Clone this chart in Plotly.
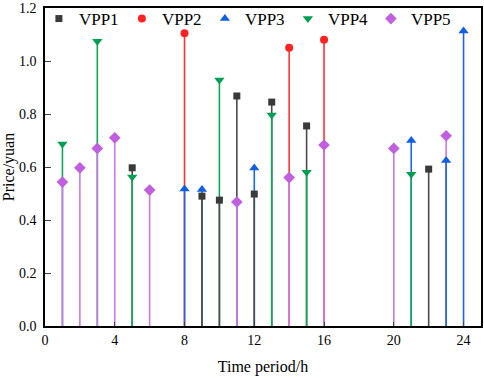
import plotly.graph_objects as go

# ---- data ----
vpp1_t = [5, 9, 10, 11, 12, 13, 15, 22]
vpp1_v = [0.597, 0.49, 0.475, 0.868, 0.498, 0.845, 0.755, 0.592]

vpp2_t = [8, 14, 16]
vpp2_v = [1.105, 1.05, 1.08]

vpp3_t = [8, 9, 12, 21, 23, 24]
vpp3_v = [0.517, 0.515, 0.596, 0.70, 0.625, 1.113]

vpp4_t = [1, 3, 5, 10, 13, 15, 21]
vpp4_v = [0.687, 1.075, 0.562, 0.928, 0.796, 0.58, 0.573]

vpp5_t = [1, 2, 3, 4, 6, 11, 14, 16, 20, 23]
vpp5_v = [0.543, 0.597, 0.67, 0.71, 0.513, 0.468, 0.56, 0.683, 0.67, 0.718]

x_ticks = [0, 4, 8, 12, 16, 20, 24]
y_ticks = [0.0, 0.2, 0.4, 0.6, 0.8, 1.0, 1.2]

FONT = "Liberation Serif"

series = [
    ("VPP1", vpp1_t, vpp1_v, "#3a3a3a", "#4a4a4a", "square", 7),
    ("VPP2", vpp2_t, vpp2_v, "#ff2222", "#ff3333", "circle", 8),
    ("VPP3", vpp3_t, vpp3_v, "#1060e0", "#1a66e6", "triangle-up", 9),
    ("VPP4", vpp4_t, vpp4_v, "#00a050", "#10a858", "triangle-down", 9),
    ("VPP5", vpp5_t, vpp5_v, "#c060e0", "#cc77ee", "diamond", 9),
]

fig = go.Figure()

# stems, tallest first so shorter stems are drawn on top
stems = []
for name, ts, vs, mc, lc, sym, sz in series:
    for t, v in zip(ts, vs):
        stems.append((v, t, lc))
stems.sort(key=lambda s: -s[0])
for v, t, lc in stems:
    fig.add_trace(go.Scatter(x=[t, t], y=[0, v], mode="lines",
                             line=dict(color=lc, width=1.6),
                             showlegend=False, hoverinfo="skip"))

for name, ts, vs, mc, lc, sym, sz in series:
    fig.add_trace(go.Scatter(x=ts, y=vs, mode="markers", name=name,
                             marker=dict(symbol=sym, size=sz, color=mc)))

fig.update_layout(
    width=484, height=378,
    margin=dict(l=45, r=3, t=8, b=52, autoexpand=False),
    paper_bgcolor="white", plot_bgcolor="white",
    font=dict(family=FONT, color="black", size=14),
    showlegend=True,
    legend=dict(orientation="h", x=-0.014, y=1.022, xanchor="left", yanchor="top",
                font=dict(size=17, family=FONT),
                entrywidth=38, entrywidthmode="pixels",
                bgcolor="rgba(0,0,0,0)", itemsizing="trace",
                tracegroupgap=0),
    xaxis=dict(range=[0, 25], tickvals=x_ticks, ticks="inside", ticklen=4,
               showline=True, linecolor="black", linewidth=1.5, mirror=True,
               showgrid=False, zeroline=False, automargin=False,
               title=dict(text="Time period/h", font=dict(size=16, family=FONT), standoff=14),
               tickfont=dict(size=14, family=FONT)),
    yaxis=dict(range=[0, 1.2], tickvals=y_ticks, tickformat=".1f",
               ticks="inside", ticklen=6, ticklabelstandoff=4,
               showline=True, linecolor="black", linewidth=1.5, mirror=True,
               showgrid=False, zeroline=False, automargin=False,
               title=dict(text="Price/yuan", font=dict(size=16, family=FONT), standoff=4),
               tickfont=dict(size=14, family=FONT)),
)

fig.write_html("out.html", config={"displayModeBar": False},
               post_script="document.body.style.margin='0';")
